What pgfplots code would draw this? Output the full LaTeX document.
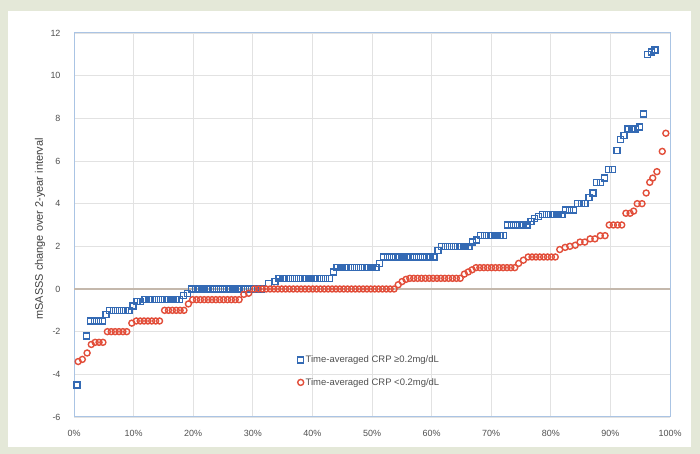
\documentclass[border=0pt]{standalone}
\usepackage{pgfplots}
\pgfplotsset{compat=1.18}
\usepackage{fontspec}
\setmainfont{Liberation Sans}
\definecolor{bg}{RGB}{228,232,216}
\definecolor{labgray}{RGB}{80,80,80}
\definecolor{gridgray}{RGB}{226,226,226}
\definecolor{framecol}{RGB}{170,196,228}
\definecolor{zerocol}{RGB}{196,184,172}
\definecolor{bluem}{RGB}{52,106,180}
\definecolor{redm}{RGB}{226,78,58}
\begin{document}
\begin{tikzpicture}[x=1bp,y=1bp]
\fill[bg] (0,0) rectangle (700,454);
\fill[white] (8,7) rectangle (691,443);
\begin{axis}[
  at={(74bp,37bp)}, anchor=south west,
  width=596bp, height=384bp, scale only axis,
  xmin=0, xmax=100, ymin=-6, ymax=12,
  xtick={0,10,...,100}, ytick={-6,-4,...,12},
  xticklabel={\pgfmathprintnumber{\tick}\%},
  /pgf/number format/assume math mode=true,
  grid=major, grid style={gridgray, line width=0.9bp},
  extra y ticks={0}, extra y tick labels={},
  extra y tick style={grid=major, major grid style={zerocol, line width=1.1bp}},
  axis line style={framecol, line width=1bp},
  tick style={draw=none},
  ticklabel style={font=\fontsize{9}{10}\selectfont, text=labgray},
  yticklabel style={xshift=-10bp},
  xticklabel style={yshift=-10bp},
  ylabel={mSASSS change over 2-year interval},
  ylabel style={at={(axis description cs:-0.057,0.49)}, anchor=center, font=\fontsize{11}{12}\selectfont, text=black!75},
  legend style={at={(axis description cs:0.37,0.17)}, anchor=north west, draw=none, fill=none,
    font=\fontsize{9.5}{11}\selectfont, text=labgray, row sep=10bp},
  legend cell align=left,
]
\addplot[only marks, mark=square, mark size=3bp, mark options={draw=bluem, line width=1.4bp, fill=none}] coordinates {
(0.5,-4.5) (2.1,-2.2) (2.8,-1.5) (3.45,-1.5) (4.1,-1.5) (4.75,-1.5) (5.4,-1.2)
(6.0,-1.0) (6.65,-1.0) (7.3,-1.0) (7.95,-1.0) (8.6,-1.0) (9.25,-1.0) (9.9,-0.8)
(10.6,-0.6) (11.2,-0.6)
(11.9,-0.5) (12.55,-0.5) (13.2,-0.5) (13.85,-0.5) (14.5,-0.5) (15.15,-0.5) (15.8,-0.5) (16.45,-0.5) (17.1,-0.5) (17.75,-0.5)
(18.4,-0.3) (19.05,-0.2)
(19.7,0) (20.35,0) (21.0,0) (21.65,0) (22.3,0) (22.95,0) (23.6,0) (24.25,0) (24.9,0) (25.55,0) (26.2,0) (26.85,0) (27.5,0) (28.15,0) (28.8,0) (29.45,0) (30.1,0) (30.75,0) (31.4,0)
(32.6,0.25) (33.7,0.35)
(34.4,0.5) (35.05,0.5) (35.7,0.5) (36.35,0.5) (37.0,0.5) (37.65,0.5) (38.3,0.5) (38.95,0.5) (39.6,0.5) (40.25,0.5) (40.9,0.5) (41.55,0.5) (42.2,0.5) (42.85,0.5)
(43.5,0.8)
(44.15,1.0) (44.8,1.0) (45.45,1.0) (46.1,1.0) (46.75,1.0) (47.4,1.0) (48.05,1.0) (48.7,1.0) (49.35,1.0) (50.0,1.0) (50.65,1.0)
(51.3,1.2)
(51.95,1.5) (52.6,1.5) (53.25,1.5) (53.9,1.5) (54.55,1.5) (55.2,1.5) (55.85,1.5) (56.5,1.5) (57.15,1.5) (57.8,1.5) (58.45,1.5) (59.1,1.5) (59.75,1.5) (60.4,1.5)
(61.05,1.8)
(61.7,2.0) (62.35,2.0) (63.0,2.0) (63.65,2.0) (64.3,2.0) (64.95,2.0) (65.6,2.0) (66.25,2.0)
(66.9,2.2) (67.55,2.3)
(68.2,2.5) (68.85,2.5) (69.5,2.5) (70.15,2.5) (70.8,2.5) (71.45,2.5) (72.1,2.5)
(72.75,3.0) (73.4,3.0) (74.05,3.0) (74.7,3.0) (75.35,3.0) (76.0,3.0)
(76.65,3.15) (77.3,3.3) (77.95,3.4)
(78.6,3.5) (79.25,3.5) (79.9,3.5) (80.55,3.5) (81.2,3.5) (81.85,3.5)
(82.5,3.7) (83.15,3.7) (83.8,3.7)
(84.45,4.0) (85.1,4.0) (85.75,4.0)
(86.4,4.3) (87.05,4.5)
(87.7,5.0) (88.35,5.0) (89.0,5.2)
(89.65,5.6) (90.3,5.6)
(91.1,6.5) (91.7,7.0) (92.3,7.2)
(92.95,7.5) (93.6,7.5) (94.25,7.5) (94.9,7.6)
(95.55,8.2)
(96.2,11.0) (96.85,11.1) (97.5,11.2)
};
\addlegendentry{Time-averaged CRP ≥0.2mg/dL}
\addplot[only marks, mark=o, mark size=3bp, mark options={draw=redm, line width=1.4bp, fill=none}] coordinates {
(0.7,-3.4) (1.4,-3.3) (2.2,-3.0) (2.9,-2.6) (3.55,-2.5) (4.2,-2.5) (4.85,-2.5)
(5.6,-2.0) (6.25,-2.0) (6.9,-2.0) (7.55,-2.0) (8.2,-2.0) (8.85,-2.0)
(9.7,-1.6)
(10.45,-1.5) (11.1,-1.5) (11.75,-1.5) (12.4,-1.5) (13.05,-1.5) (13.7,-1.5) (14.35,-1.5)
(15.2,-1.0) (15.85,-1.0) (16.5,-1.0) (17.15,-1.0) (17.8,-1.0) (18.45,-1.0)
(19.2,-0.7)
(19.9,-0.5) (20.55,-0.5) (21.2,-0.5) (21.85,-0.5) (22.5,-0.5) (23.15,-0.5) (23.8,-0.5) (24.45,-0.5) (25.1,-0.5) (25.75,-0.5) (26.4,-0.5) (27.05,-0.5) (27.7,-0.5)
(28.5,-0.25) (29.3,-0.2)
(30.3,0) (30.95,0) (31.6,0) (32.25,0) (32.9,0) (33.55,0) (34.2,0) (34.85,0) (35.5,0) (36.15,0) (36.8,0) (37.45,0) (38.1,0) (38.75,0) (39.4,0) (40.05,0) (40.7,0) (41.35,0) (42.0,0) (42.65,0) (43.3,0) (43.95,0) (44.6,0) (45.25,0) (45.9,0) (46.55,0) (47.2,0) (47.85,0) (48.5,0) (49.15,0) (49.8,0) (50.45,0) (51.1,0) (51.75,0) (52.4,0) (53.05,0) (53.7,0)
(54.4,0.2) (55.05,0.35) (55.7,0.45)
(56.35,0.5) (57.0,0.5) (57.65,0.5) (58.3,0.5) (58.95,0.5) (59.6,0.5) (60.25,0.5) (60.9,0.5) (61.55,0.5) (62.2,0.5) (62.85,0.5) (63.5,0.5) (64.15,0.5) (64.8,0.5)
(65.5,0.7) (66.15,0.8) (66.8,0.9)
(67.45,1.0) (68.1,1.0) (68.75,1.0) (69.4,1.0) (70.05,1.0) (70.7,1.0) (71.35,1.0) (72.0,1.0) (72.65,1.0) (73.3,1.0) (73.95,1.0)
(74.6,1.2) (75.4,1.35)
(76.2,1.5) (76.85,1.5) (77.5,1.5) (78.15,1.5) (78.8,1.5) (79.45,1.5) (80.1,1.5) (80.75,1.5)
(81.5,1.85) (82.4,1.95) (83.2,2.0) (84.1,2.05) (84.9,2.2) (85.7,2.2) (86.6,2.35) (87.4,2.35) (88.3,2.5) (89.1,2.5)
(89.8,3.0) (90.5,3.0) (91.2,3.0) (91.9,3.0)
(92.6,3.55) (93.3,3.55) (93.9,3.65)
(94.5,4.0) (95.3,4.0)
(96.0,4.5) (96.6,5.0) (97.1,5.2) (97.8,5.5) (98.7,6.45) (99.3,7.3)
};
\addlegendentry{Time-averaged CRP <0.2mg/dL}
\end{axis}
\end{tikzpicture}
\end{document}
